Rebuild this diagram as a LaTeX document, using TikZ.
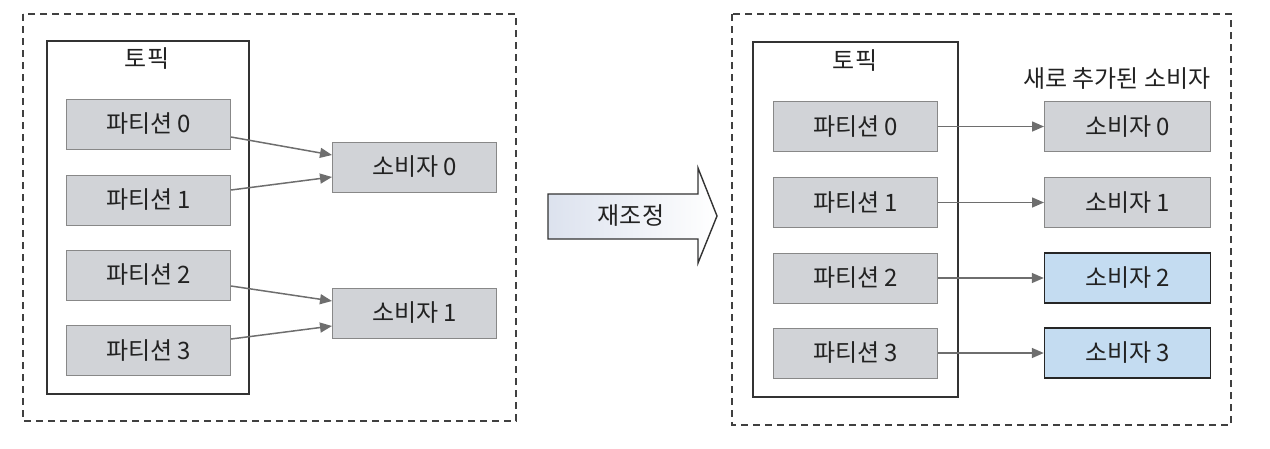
\documentclass[tikz,border=0pt]{standalone}
\usepackage{fontspec}
\setmainfont{Noto Sans CJK KR}
\usetikzlibrary{arrows.meta}
\definecolor{boxgray}{HTML}{D1D3D7}
\definecolor{boxedge}{HTML}{888888}
\definecolor{newblue}{HTML}{C4DCF1}
\definecolor{arrgray}{HTML}{6E6E6E}
\definecolor{txt}{HTML}{222222}
\definecolor{shadeL}{HTML}{DCE2EE}
\begin{document}
\begin{tikzpicture}[x=1pt,y=-1pt,
  every node/.style={font=\fontsize{24}{28}\selectfont, text=txt},
  part/.style={draw=boxedge, line width=1pt, fill=boxgray, minimum width=164pt, minimum height=50pt, inner sep=0pt},
  cons/.style={part},
  newcons/.style={draw=black!85, line width=1.4pt, fill=newblue, minimum width=166pt, minimum height=50pt, inner sep=0pt},
  topicbox/.style={draw=black!80, line width=1.6pt, inner sep=0pt},
  frame/.style={draw=black!75, line width=1.4pt, dash pattern=on 7pt off 5pt},
  conn/.style={draw=arrgray, line width=1.5pt, -{Triangle[length=12pt,width=10pt]}}
]
\useasboundingbox (0,0) rectangle (1270,448);

% ---------- left panel ----------
\draw[frame] (23,14) rectangle (516,421);
\node[topicbox, minimum width=202pt, minimum height=353pt] (ltopic) at (148,217.5) {};
\node (ltopiclabel) at (147,59) {토픽};
\node[part] (lp0) at (148.5,124) {파티션 0};
\node[part] (lp1) at (148.5,200) {파티션 1};
\node[part] (lp2) at (148.5,275) {파티션 2};
\node[part] (lp3) at (148.5,350.5) {파티션 3};
\node[cons] (lc0) at (414.5,167) {소비자 0};
\node[cons] (lc1) at (414.5,313) {소비자 1};
\draw[conn] ([yshift=-13pt]lp0.east) -- ([yshift=12pt]lc0.west);
\draw[conn] ([yshift=10pt]lp1.east) -- ([yshift=-10pt]lc0.west);
\draw[conn] ([yshift=-11pt]lp2.east) -- ([yshift=12pt]lc1.west);
\draw[conn] ([yshift=11.5pt]lp3.east) -- ([yshift=-13pt]lc1.west);

% ---------- rebalance arrow ----------
\path[shade, left color=shadeL, right color=white, draw=black!80, line width=1.4pt]
  (548,194) -- (698,194) -- (698,168) -- (717,216) -- (698,263) -- (698,239) -- (548,239) -- cycle;
\node (rebal) at (631,216) {재조정};

% ---------- right panel ----------
\draw[frame] (732,14) rectangle (1231,425);
\node[topicbox, minimum width=205pt, minimum height=355pt] (rtopic) at (855.5,219.5) {};
\node (rtopiclabel) at (855,61) {토픽};
\node[anchor=east] (newlabel) at (1214,79) {새로 추가된 소비자};
\node[part] (rp0) at (855.5,126.5) {파티션 0};
\node[part] (rp1) at (855.5,202.5) {파티션 1};
\node[part] (rp2) at (855.5,278) {파티션 2};
\node[part] (rp3) at (855.5,353) {파티션 3};
\node[cons, minimum width=166pt] (rc0) at (1127.5,126.5) {소비자 0};
\node[cons, minimum width=166pt] (rc1) at (1127.5,202.5) {소비자 1};
\node[newcons] (rc2) at (1127.5,278) {소비자 2};
\node[newcons] (rc3) at (1127.5,353) {소비자 3};
\draw[conn] (rp0) -- (rc0);
\draw[conn] (rp1) -- (rc1);
\draw[conn] (rp2) -- (rc2);
\draw[conn] (rp3) -- (rc3);
\end{tikzpicture}
\end{document}
